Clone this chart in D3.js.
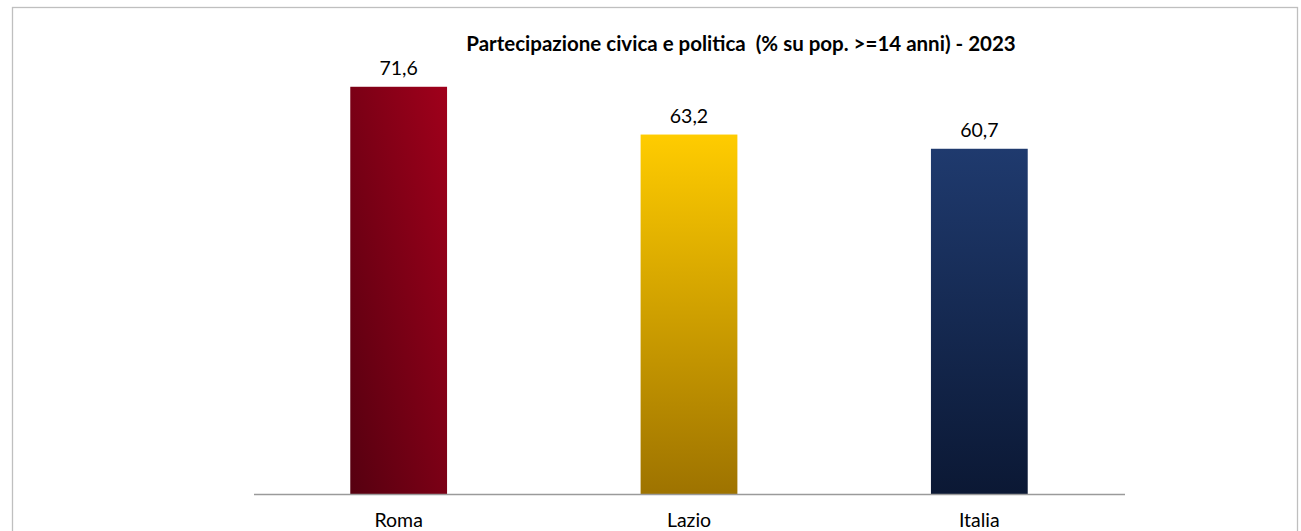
<!DOCTYPE html>
<html><head><meta charset="utf-8">
<script src="https://cdn.jsdelivr.net/npm/d3@7"></script>
<style>
html,body{margin:0;padding:0;background:#fff;}
svg{display:block;}
text{font-family:Lato,"Open Sans",sans-serif;}
</style></head>
<body>
<script>
const categories = ["Roma", "Lazio", "Italia"];
const values = [71.6, 63.2, 60.7];
const valueLabels = ["71,6", "63,2", "60,7"];
const title = "Partecipazione civica e politica  (% su pop. >=14 anni) - 2023";

const W = 1301, H = 531;
const svg = d3.select("body").append("svg").attr("width", W).attr("height", H);

const defs = svg.append("defs");
const grads = [
  {id:"gRoma", x1:0,y1:1,x2:1,y2:0, stops:[["0%","#560010"],["100%","#a0001b"]]},
  {id:"gLazio", x1:0,y1:0,x2:0,y2:1, stops:[["0%","#ffcc00"],["100%","#9e7300"]]},
  {id:"gItalia", x1:0,y1:0,x2:0,y2:1, stops:[["0%","#1f3a6e"],["100%","#0b1834"]]}
];
grads.forEach(g => {
  const lg = defs.append("linearGradient").attr("id", g.id)
    .attr("x1", g.x1).attr("y1", g.y1).attr("x2", g.x2).attr("y2", g.y2);
  g.stops.forEach(s => lg.append("stop").attr("offset", s[0]).attr("stop-color", s[1]));
});

// chart border
svg.append("rect").attr("x", 12.5).attr("y", 7.5).attr("width", 1285).attr("height", 540)
  .attr("fill", "none").attr("stroke", "#bfbfbf").attr("stroke-width", 1.3);

const x = d3.scaleBand().domain(categories).range([253.5, 1124.5]).paddingInner(2/3).paddingOuter(1/3);
const y = d3.scaleLinear().domain([0, 80]).range([494, 39]);

const fills = ["url(#gRoma)", "url(#gLazio)", "url(#gItalia)"];

svg.selectAll("rect.bar").data(categories).enter().append("rect")
  .attr("class", "bar")
  .attr("x", d => x(d))
  .attr("y", (d, i) => y(values[i]))
  .attr("width", x.bandwidth())
  .attr("height", (d, i) => y(0) - y(values[i]))
  .attr("fill", (d, i) => fills[i]);

// axis
const xAxis = d3.axisBottom(x).tickSize(0).tickPadding(19);
const ax = svg.append("g").attr("transform", `translate(0,${y(0)})`).call(xAxis);
ax.select(".domain").attr("stroke", "#9a9a9a").attr("stroke-width", 1.6);
ax.selectAll(".tick text").attr("font-size", 19.5).attr("fill", "#000")
  .attr("font-family", "Lato, 'Open Sans', sans-serif");

// value labels
svg.selectAll("text.val").data(categories).enter().append("text")
  .attr("class", "val")
  .attr("x", d => x(d) + x.bandwidth() / 2)
  .attr("y", (d, i) => y(values[i]) - 12)
  .attr("text-anchor", "middle")
  .attr("font-size", 19.5)
  .attr("fill", "#000")
  .text((d, i) => valueLabels[i]);

// title
svg.append("text").attr("x", 741).attr("y", 51).attr("text-anchor", "middle")
  .attr("font-size", 20.5).attr("font-weight", "bold").attr("fill", "#000")
  .style("white-space", "pre")
  .attr("xml:space", "preserve")
  .text(title);
</script>
</body></html>
